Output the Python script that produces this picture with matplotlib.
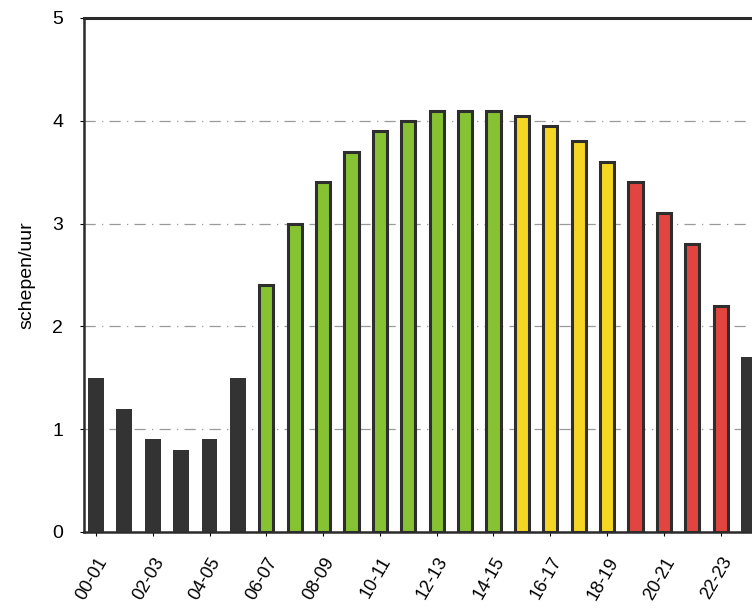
import matplotlib

matplotlib.use("Agg")

import matplotlib.pyplot as plt
import numpy as np

plt.rcParams["font.family"] = ["Liberation Sans", "DejaVu Sans"]

# ships per hour, one bar per hour slot
hours = [f"{h:02d}-{h + 1:02d}" for h in range(24)]
ships_per_hour = [1.5, 1.2, 0.9, 0.8, 0.9, 1.5,
                  2.4, 3.0, 3.4, 3.7, 3.9, 4.0, 4.1, 4.1, 4.1,
                  4.05, 3.95, 3.8, 3.6,
                  3.4, 3.1, 2.8, 2.2,
                  1.7]
period = (["night"] * 6 + ["morning"] * 9 + ["afternoon"] * 4
          + ["evening"] * 4 + ["night"])

period_colors = {
    "night": "#333333",
    "morning": "#86c232",
    "afternoon": "#f4d623",
    "evening": "#e2453f",
}

fig = plt.figure(figsize=(7.52, 6.08), dpi=100)
ax = fig.add_axes([84 / 752, 76 / 608, 677 / 752, 514 / 608])

x = np.arange(len(hours))
colors = [period_colors[p] for p in period]
widths = [0.56 if p == "night" else 0.5 for p in period]
edge_w = [0.0 if p == "night" else 2.2 for p in period]
ax.bar(x, ships_per_hour, width=widths, color=colors,
       edgecolor="#2e2e2e", linewidth=edge_w, zorder=3)

ax.set_xlim(-0.42, 23.42)
ax.set_ylim(0, 5)
ax.set_yticks(range(6))
ax.set_yticklabels([str(v) for v in range(6)], fontsize=14)
ax.set_xticks(x[::2])
ax.set_xticklabels(hours[::2], rotation=60, ha="right", va="top",
                   rotation_mode="anchor", fontsize=13)
ax.tick_params(axis="x", length=3, pad=13)
ax.tick_params(axis="y", length=3, pad=12)

ax.set_ylabel("schepen/uur", fontsize=14, labelpad=12)

for v in range(1, 5):
    ax.axhline(v, color="#9a9a9a", linestyle=(0, (9, 5, 1, 5)),
               linewidth=0.9, zorder=1)

ax.spines["top"].set_linewidth(2.2)
ax.spines["left"].set_linewidth(1.8)
ax.spines["bottom"].set_linewidth(1.8)
for s in ax.spines.values():
    s.set_color("#2a2a2a")

fig.savefig("out.png", dpi=100)
